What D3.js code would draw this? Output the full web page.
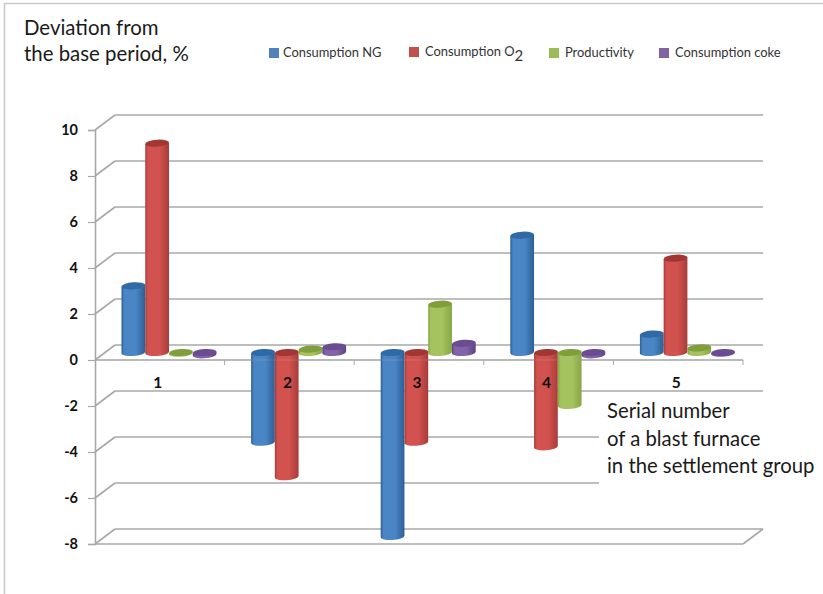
<!DOCTYPE html>
<html><head><meta charset="utf-8">
<script src="https://cdn.jsdelivr.net/npm/d3@7/dist/d3.min.js"></script>
<style>html,body{margin:0;padding:0;background:#fff}svg{display:block}text{font-family:Lato,"Open Sans",sans-serif}</style>
</head><body><div id="c"></div>
<script>
const categories = ["1","2","3","4","5"];
const seriesNames = ["Consumption NG","Consumption O2","Productivity","Consumption coke"];
const consumptionNG = [2.9,-3.9,-8.0,5.1,0.8];
const consumptionO2 = [9.1,-5.4,-3.9,-4.1,4.1];
const productivity = [-0.03,0.15,2.1,-2.3,0.2];
const consumptionCoke = [-0.1,0.25,0.4,-0.1,-0.03];
const yTicks = [10,8,6,4,2,0,-2,-4,-6,-8];
const seriesValues = [consumptionNG,consumptionO2,productivity,consumptionCoke];
const palette = [
 {top:"#2f6aa6",edge:"#2c5f96",mid:"#4a86c6",legend:"#4f81bd"},
 {top:"#a23633",edge:"#a83c39",mid:"#d2524f",legend:"#c0504d"},
 {top:"#7f9f3d",edge:"#86a544",mid:"#a5c45f",legend:"#9bbb59"},
 {top:"#6b4c93",edge:"#5d4482",mid:"#8263a8",legend:"#8064a2"}];

const W=823,H=594, depthX=20, depthY=-15;
const svg=d3.select("#c").append("svg").attr("width",W).attr("height",H);
svg.append("rect").attr("width",W).attr("height",H).attr("fill","#fff");
const defs=svg.append("defs");
palette.forEach((p,i)=>{
  const g=defs.append("linearGradient").attr("id","g"+i);
  [[0,p.edge],[.12,p.mid],[.6,p.mid],[1,p.edge]].forEach(s=>g.append("stop").attr("offset",s[0]).attr("stop-color",s[1]));
});
// frame
svg.append("path").attr("d","M4.5,594V3.5H823").attr("fill","none").attr("stroke","#c9c9c9").attr("stroke-width",1.5);

const y=d3.scaleLinear().domain([-8,10]).range([544,130]);
const x0=d3.scaleBand().domain(categories).range([95,743]);
const x1=d3.scaleBand().domain(d3.range(seriesNames.length)).range([26.5,121.5]);
const grid="#a8a8a8";

// back wall and side wall
const wall=svg.append("g").attr("fill","none").attr("stroke",grid).attr("stroke-width",1.6);
yTicks.forEach(t=>{
  wall.append("line").attr("x1",x0.range()[0]).attr("y1",y(t)).attr("x2",x0.range()[0]+depthX).attr("y2",y(t)+depthY);
  wall.append("line").attr("x1",x0.range()[0]+depthX).attr("y1",y(t)+depthY).attr("x2",x0.range()[1]+depthX).attr("y2",y(t)+depthY);
});
wall.append("line").attr("x1",x0.range()[1]).attr("y1",y(-8)).attr("x2",x0.range()[1]+depthX).attr("y2",y(-8)+depthY);
wall.append("line").attr("x1",x0.range()[0]).attr("y1",y(-8)).attr("x2",x0.range()[1]).attr("y2",y(-8));

// white panel behind the axis caption
svg.append("rect").attr("x",599).attr("y",398).attr("width",224).attr("height",92).attr("fill","#fff");

// value axis
const ay=svg.append("g").attr("transform",`translate(${x0.range()[0]},0)`)
  .call(d3.axisLeft(y).tickValues(yTicks).tickSize(7).tickPadding(10).tickFormat(d=>String(d)));
ay.select(".domain").attr("stroke",grid).attr("stroke-width",1.6);
ay.selectAll("line").attr("stroke",grid).attr("stroke-width",1.2);
ay.selectAll("text").attr("fill","#111").style("font-family","Lato").style("font-size","14.5px").style("font-weight","700");

// zero line with category ticks
function zeroLine(op){
  const g=svg.append("g").attr("opacity",op);
  g.append("line").attr("x1",x0.range()[0]).attr("x2",x0.range()[1]).attr("y1",y(0)).attr("y2",y(0)).attr("stroke",grid).attr("stroke-width",1.6);
  return g;
}
const z=zeroLine(1);
categories.forEach(c=>z.append("line").attr("x1",x0(c)+x0.bandwidth()).attr("x2",x0(c)+x0.bandwidth()).attr("y1",y(0)).attr("y2",y(0)+5).attr("stroke",grid).attr("stroke-width",1));

// cylinders
const baseDX=depthX/2-10, baseDY=depthY/2, ry=3.5, tilt=0.7;
const bars=svg.append("g");
categories.forEach((c,ci)=>{
  seriesValues.forEach((vals,si)=>{
    const v=vals[ci], w=x1.bandwidth(), left=x0(c)+x1(si)+baseDX, rx=w/2, cx=left+rx;
    const yTop=y(Math.max(v,0))+baseDY, yBot=y(Math.min(v,0))+baseDY;
    const g=bars.append("g");
    g.append("path")
      .attr("d",`M${left},${yTop+tilt}L${left},${yBot+tilt}A${rx},${ry} -4 0 0 ${left+w},${yBot-tilt}L${left+w},${yTop-tilt}Z`)
      .attr("fill",`url(#g${si})`);
    g.append("ellipse").attr("cx",cx).attr("cy",yTop).attr("rx",rx).attr("ry",ry)
      .attr("fill",palette[si].top).attr("transform",`rotate(-4 ${cx} ${yTop})`);
  });
});
zeroLine(.22);

// category labels
categories.forEach(c=>svg.append("text").attr("x",x0(c)+x0.bandwidth()/2-2).attr("y",388)
  .attr("text-anchor","middle").attr("fill","#111").style("font-size","15.5px").style("font-weight","700").text(c));

// titles
[["Deviation from",24,35],["the base period, %",24,61]].forEach(t=>svg.append("text").attr("x",t[1]).attr("y",t[2]).attr("fill","#1a1a1a").style("font-size","20.4px").text(t[0]));
[["Serial number",607,418],["of a blast furnace",607,446],["in the settlement group",607,473]].forEach(t=>svg.append("text").attr("x",t[1]).attr("y",t[2]).attr("fill","#1a1a1a").style("font-size","20.3px").text(t[0]));

// legend
const legendX=[269,409,549,659], legendTextX=[283,425,565,675];
seriesNames.forEach((n,i)=>{
  svg.append("rect").attr("x",legendX[i]).attr("y",i==1?47:48).attr("width",10).attr("height",10).attr("fill",palette[i].legend);
  const t=svg.append("text").attr("x",legendTextX[i]).attr("y",i==1?56:57).attr("fill","#333").style("font-size","12.9px");
  if(n.endsWith("O2")){
    t.append("tspan").text(n.slice(0,-1));
    t.append("tspan").attr("dy",5).style("font-size","15px").text("2");
  } else t.text(n);
});
</script></body></html>
